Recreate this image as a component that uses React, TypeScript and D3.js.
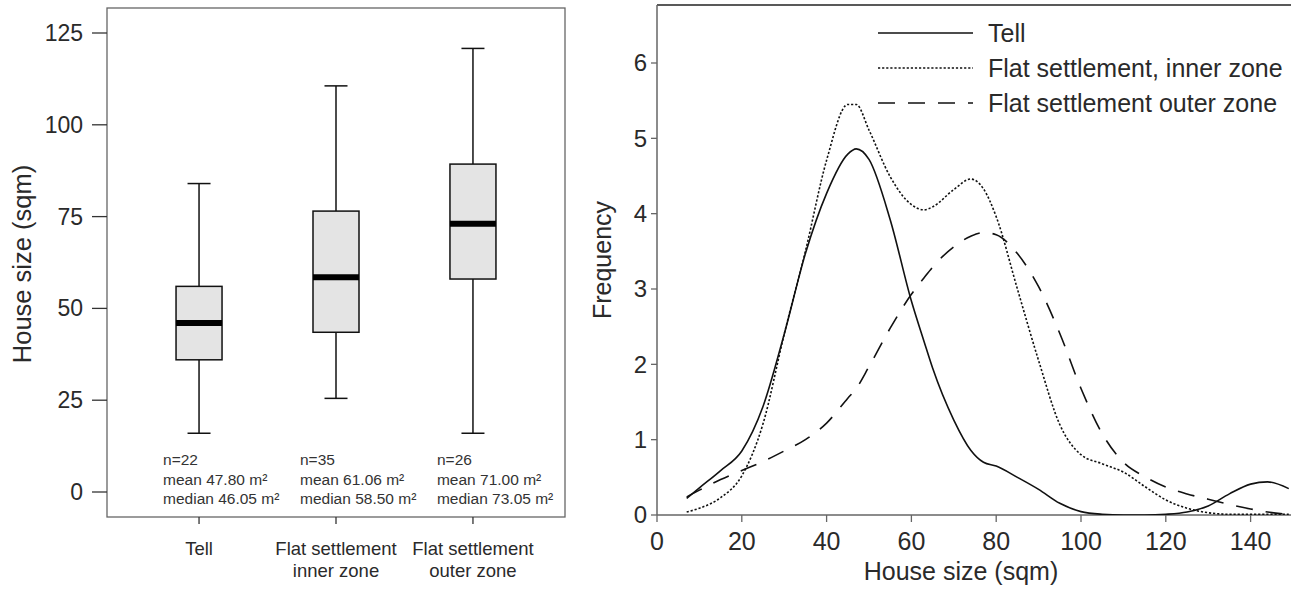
import React from 'react';
import * as d3 from 'd3';

// box plot summaries (sqm)
const groups = ['Tell', 'Flat settlement inner zone', 'Flat settlement outer zone'];
const groupLabels = [['Tell'], ['Flat settlement', 'inner zone'], ['Flat settlement', 'outer zone']];
const whiskerLow = [16, 25.5, 16];
const q1 = [36, 43.5, 58];
const medians = [46.05, 58.5, 73.05];
const q3 = [56, 76.5, 89.3];
const whiskerHigh = [84, 110.6, 120.8];
const counts = [22, 35, 26];
const means = [47.8, 61.06, 71.0];
const leftTicks = [0, 25, 50, 75, 100, 125];

// density curves
const sizeGrid = [7, 10, 15, 20, 25, 30, 35, 40, 45, 47, 50, 55, 60, 63, 65, 70, 74, 77, 80, 85, 90, 95, 100, 105, 110, 115, 120, 125, 130, 135, 140, 144, 149];
const tellFreq = [0.22, 0.36, 0.59, 0.85, 1.44, 2.4, 3.47, 4.27, 4.79, 4.86, 4.72, 3.92, 2.84, 2.3, 1.95, 1.26, 0.86, 0.7, 0.65, 0.5, 0.34, 0.155, 0.045, 0.01, 0.0, 0.0, 0.01, 0.04, 0.12, 0.28, 0.41, 0.44, 0.35];
const innerFreq = [0.04, 0.09, 0.23, 0.52, 1.21, 2.4, 3.5, 4.71, 5.45, 5.45, 5.11, 4.49, 4.12, 4.05, 4.09, 4.32, 4.46, 4.33, 3.96, 3.0, 2.05, 1.2, 0.8, 0.68, 0.57, 0.38, 0.2, 0.09, 0.03, 0.01, 0.01, 0.01, 0.01];
const outerFreq = [0.24, 0.33, 0.47, 0.59, 0.71, 0.85, 1.0, 1.22, 1.55, 1.68, 1.97, 2.48, 2.93, 3.15, 3.29, 3.56, 3.7, 3.75, 3.72, 3.47, 3.03, 2.41, 1.68, 1.08, 0.7, 0.51, 0.37, 0.28, 0.21, 0.14, 0.08, 0.04, 0.01];
const seriesNames = ['Tell', 'Flat settlement, inner zone', 'Flat settlement outer zone'];
const xTicks = [0, 20, 40, 60, 80, 100, 120, 140];
const yTicks = [0, 1, 2, 3, 4, 5, 6];

const FONT = '"Liberation Sans", Arial, Helvetica, sans-serif';
const TEXT = '#2a2a2a';
const AXIS = '#666';

const App = () => {
  // left panel
  const frame = { left: 107, right: 565, top: 8, bottom: 517 };
  const yL = d3.scaleLinear().domain([0, 125]).range([492, 33]);
  const xL = d3.scalePoint().domain(groups).range([frame.left, frame.right]).padding(0.672);
  const boxW = 46;
  const capW = 23;

  // right panel
  const xR = d3.scaleLinear().domain([0, 150]).range([657, 1293]);
  const yR = d3.scaleLinear().domain([0, 6]).range([515, 63]);
  const rTop = 5;

  const line = d3.line<number>()
    .x((_, i) => xR(sizeGrid[i]))
    .y(d => yR(d))
    .curve(d3.curveMonotoneX);

  const series = [
    { name: seriesNames[0], values: tellFreq, dash: null },
    { name: seriesNames[1], values: innerFreq, dash: '2.2,1.9' },
    { name: seriesNames[2], values: outerFreq, dash: '17,13' },
  ];

  return (
    <svg width={1291} height={592} style={{ position: 'absolute', left: 0, top: 0, background: '#fff' }}
      fontFamily={FONT}>
      {/* ---------- box plot ---------- */}
      <rect x={frame.left} y={frame.top} width={frame.right - frame.left} height={frame.bottom - frame.top}
        fill="none" stroke={AXIS} strokeWidth={1.3} />
      {leftTicks.map(t => (
        <g key={t}>
          <line x1={92} x2={frame.left} y1={yL(t)} y2={yL(t)} stroke="#333" strokeWidth={1.3} />
          <text x={83} y={yL(t)} dy="0.35em" textAnchor="end" fontSize={23} fill={TEXT}>{t}</text>
        </g>
      ))}
      <text transform={`translate(22,264) rotate(-90)`} textAnchor="middle" dy="0.35em" fontSize={25.5} fill={TEXT}>
        House size (sqm)
      </text>
      {groups.map((g, i) => {
        const cx = xL(g) as number;
        return (
          <g key={g}>
            <line x1={cx} x2={cx} y1={yL(whiskerHigh[i])} y2={yL(q3[i])} stroke="#111" strokeWidth={1.5} />
            <line x1={cx} x2={cx} y1={yL(q1[i])} y2={yL(whiskerLow[i])} stroke="#111" strokeWidth={1.5} />
            <line x1={cx - capW / 2} x2={cx + capW / 2} y1={yL(whiskerHigh[i])} y2={yL(whiskerHigh[i])} stroke="#111" strokeWidth={1.5} />
            <line x1={cx - capW / 2} x2={cx + capW / 2} y1={yL(whiskerLow[i])} y2={yL(whiskerLow[i])} stroke="#111" strokeWidth={1.5} />
            <rect x={cx - boxW / 2} y={yL(q3[i])} width={boxW} height={yL(q1[i]) - yL(q3[i])}
              fill="#e4e4e4" stroke="#111" strokeWidth={1.5} />
            <line x1={cx - boxW / 2} x2={cx + boxW / 2} y1={yL(medians[i])} y2={yL(medians[i])} stroke="#000" strokeWidth={6} />
            <line x1={cx} x2={cx} y1={frame.bottom} y2={frame.bottom + 7} stroke="#333" strokeWidth={1.3} />
            {groupLabels[i].map((l, j) => (
              <text key={j} x={cx} y={555 + j * 22} textAnchor="middle" fontSize={18.5} fill={TEXT}>{l}</text>
            ))}
            <g fontSize={15.5} fill="#333">
              <text x={cx - 36} y={465}>n={counts[i]}</text>
              <text x={cx - 36} y={485}>mean {d3.format('.2f')(means[i])} m²</text>
              <text x={cx - 36} y={504}>median {d3.format('.2f')(medians[i])} m²</text>
            </g>
          </g>
        );
      })}

      {/* ---------- density plot ---------- */}
      <line x1={xR(0)} x2={1291} y1={rTop} y2={rTop} stroke="#222" strokeWidth={1.5} />
      <line x1={xR(0)} x2={xR(0)} y1={rTop} y2={yR(0)} stroke={AXIS} strokeWidth={1.5} />
      <line x1={xR(0)} x2={1291} y1={yR(0)} y2={yR(0)} stroke={AXIS} strokeWidth={1.5} />
      {xTicks.map(t => (
        <g key={t}>
          <line x1={xR(t)} x2={xR(t)} y1={yR(0)} y2={yR(0) + 7} stroke={AXIS} strokeWidth={1.3} />
          <text x={xR(t)} y={550} textAnchor="middle" fontSize={25} fill={TEXT}>{t}</text>
        </g>
      ))}
      {yTicks.map(t => (
        <g key={t}>
          <line x1={xR(0) - 6} x2={xR(0)} y1={yR(t)} y2={yR(t)} stroke={AXIS} strokeWidth={1.3} />
          <text x={647} y={yR(t)} dy="0.35em" textAnchor="end" fontSize={24} fill={TEXT}>{t}</text>
        </g>
      ))}
      <text transform={`translate(602,260) rotate(-90)`} textAnchor="middle" dy="0.35em" fontSize={25} fill={TEXT}>
        Frequency
      </text>
      <text x={961} y={580} textAnchor="middle" fontSize={25} fill={TEXT}>House size (sqm)</text>

      <defs>
        <clipPath id="plotClip">
          <rect x={xR(0)} y={rTop} width={1291 - xR(0)} height={yR(0) - rTop} />
        </clipPath>
      </defs>
      <g clipPath="url(#plotClip)">
        {series.map(s => (
          <path key={s.name} d={line(s.values) || ''} fill="none" stroke="#111" strokeWidth={1.6}
            strokeDasharray={s.dash || undefined} />
        ))}
      </g>

      {series.map((s, i) => (
        <g key={s.name} transform={`translate(0,${33 + i * 35})`}>
          <line x1={878} x2={973} y1={0} y2={0} stroke="#111" strokeWidth={1.6} strokeDasharray={s.dash || undefined} />
          <text x={988} y={0} dy="0.35em" fontSize={25} fill={TEXT}>{s.name}</text>
        </g>
      ))}
    </svg>
  );
};

export default App;
